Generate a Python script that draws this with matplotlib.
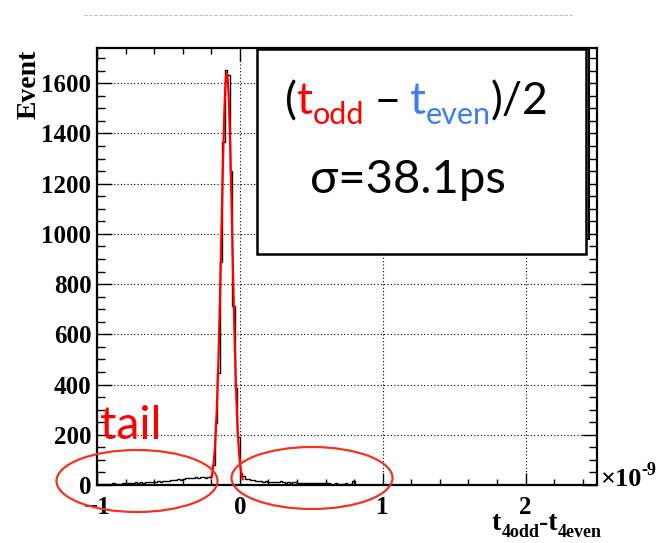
import numpy as np
import matplotlib
matplotlib.use("Agg")
import matplotlib.pyplot as plt
from matplotlib.patches import Rectangle, Ellipse
from matplotlib.lines import Line2D
from matplotlib.ticker import MultipleLocator

################
# DATA
################
# t4odd - t4even in units of 1e-9 s, 200 bins from -1 to 2.5
x_lo, x_hi, n_bins = -1.0, 2.5, 200

left_tail = [2, 3, 2, 4, 3, 5, 8, 4, 3, 5, 6, 4,
             7, 9, 8, 10, 9, 11, 8,
             10, 12, 11, 13, 12, 14, 12,
             15, 17, 16, 19,
             21, 18, 23, 20,
             24, 28, 26, 29, 27,
             31, 29, 33, 30, 28, 32,
             34]
peak = [78, 247, 446, 887, 1366, 1651, 1631, 1251, 712, 386, 191, 48]
right_tail = [35, 25, 22, 20, 18,
              16, 14, 15, 13, 16,
              12, 11, 13, 10, 12, 14, 11,
              9, 10, 8, 11, 13, 9,
              8, 7, 9, 8, 7, 8, 6, 7, 8, 6, 7, 6,
              5, 4, 6, 4,
              3, 2, 6, 3, 2, 14,
              1, 0, 1, 0, 0, 0, 0, 1, 0, 0]
counts = left_tail + peak + right_tail
counts = counts + [0] * (n_bins - len(counts))

# gaussian fit of the peak
fit_amp = 1640
fit_mean = -0.0915
fit_sigma = 0.0381
fit_range = (-0.2, 0.02)

x_ticks = [-1, 0, 1, 2]
y_ticks = [0, 200, 400, 600, 800, 1000, 1200, 1400, 1600]
y_max = 1740

################
# FIGURE
################
W, H = 657, 543
fig = plt.figure(figsize=(W / 100, H / 100), dpi=100)


def fx(x):
    return x / W


def fy(y):
    return 1 - y / H


serif = "Liberation Serif"
sans = ["Lato", "Noto Sans", "DejaVu Sans"]
red = "#ff0000"
blue = "#3d7ef5"
ring = "#f0341e"

ax = fig.add_axes([fx(97), fy(485), fx(597) - fx(97), fy(48) - fy(485)])

edges = np.linspace(x_lo, x_hi, n_bins + 1)
ax.stairs(counts, edges, color="black", lw=1.0, zorder=3)

xf = np.linspace(fit_range[0], fit_range[1], 100)
yf = fit_amp * np.exp(-0.5 * ((xf - fit_mean) / fit_sigma) ** 2)
ax.plot(xf, yf, color=red, lw=1.6, zorder=4)

ax.set_xlim(x_lo, x_hi)
ax.set_ylim(0, y_max)
ax.set_xticks(x_ticks)
ax.set_yticks(y_ticks)
ax.xaxis.set_minor_locator(MultipleLocator(0.2))
ax.yaxis.set_minor_locator(MultipleLocator(50))
ax.grid(True, which="major", ls=(0, (1, 2)), color="black", lw=0.8)

ax.tick_params(which="both", direction="in", top=True, right=True, width=1.0)
ax.tick_params(axis="x", which="major", length=9, pad=8)
ax.tick_params(axis="x", which="minor", length=4)
ax.tick_params(axis="y", which="major", length=11, pad=4)
ax.tick_params(axis="y", which="minor", length=5.5)
for lab in ax.get_xticklabels() + ax.get_yticklabels():
    lab.set_family(serif)
    lab.set_weight("bold")
    lab.set_fontsize(18)
for sp in ax.spines.values():
    sp.set_linewidth(1.6)

renderer = fig.canvas.get_renderer()


def put_pieces(x, y, pieces, family, weight="normal"):
    # pieces: (text, colour, size, raise in px) or a number for a gap
    for p in pieces:
        if not isinstance(p, tuple):
            x += p
            continue
        s, color, size, dy = p
        t = fig.text(fx(x), fy(y - dy), s, color=color, fontsize=size,
                     family=family, weight=weight, ha="left", va="baseline",
                     zorder=5)
        x += t.get_window_extent(renderer).width
    return x


# axis titles
fig.text(fx(29), fy(50), "Event", rotation=90, ha="center", va="top",
         family=serif, weight="bold", fontsize=20)
put_pieces(492, 530, [("t", "black", 20, 0), ("4odd", "black", 13, -7),
                      ("-t", "black", 20, 0), ("4even", "black", 13, -7)],
           serif, "bold")
put_pieces(600, 486, [("\u00d710", "black", 19, 0), ("-9", "black", 13, 11)],
           serif, "bold")

# stats box partly hidden behind the text box
fig.add_artist(Rectangle((fx(420), fy(239)), fx(589) - fx(420), fy(49) - fy(239),
                         transform=fig.transFigure, fc="white", ec="black",
                         lw=1.5, zorder=1))
fig.add_artist(Rectangle((fx(257), fy(254)), fx(586) - fx(257), fy(49) - fy(254),
                         transform=fig.transFigure, fc="white", ec="black",
                         lw=1.8, zorder=2))

put_pieces(285, 114, [("(", "black", 32, 0), ("t", red, 32, 0), ("odd", red, 22, -10), 10,
                      ("\u2212", "black", 32, 0), 10,
                      ("t", blue, 32, 0), ("even", blue, 22, -10),
                      (")/2", "black", 32, 0)], sans)
put_pieces(310, 193, [("\u03c3=38.1ps", "black", 34, 0)], sans)

# tail markers
fig.text(fx(100), fy(439), "tail", color=red, fontsize=33, family=sans,
         ha="left", va="baseline", zorder=5)
for cx, cy in [(137, 481), (312, 478)]:
    fig.add_artist(Ellipse((fx(cx), fy(cy)), 161 / W, 62 / H,
                           transform=fig.transFigure, fill=False, ec=ring,
                           lw=1.6, zorder=4))

# faint rule along the top
fig.add_artist(Line2D([fx(84), fx(574)], [fy(15), fy(15)], transform=fig.transFigure,
                      color="#b0b0b0", lw=0.6, ls=(0, (4, 2))))

fig.savefig("out.png", dpi=100)
